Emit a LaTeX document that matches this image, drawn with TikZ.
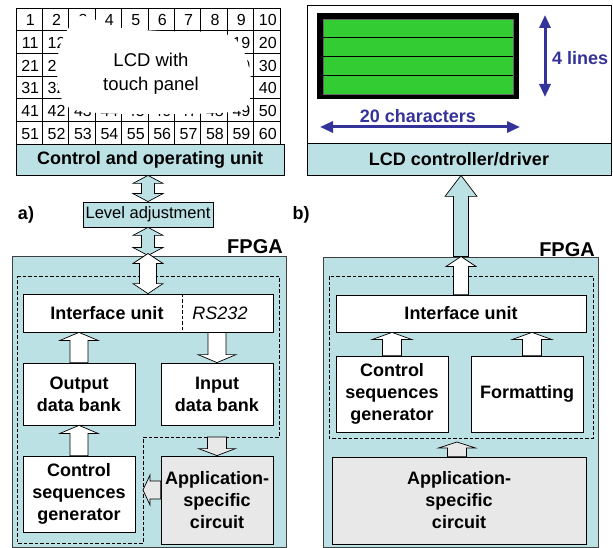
\documentclass[tikz,border=0pt]{standalone}
\usepackage{fontspec}
\setmainfont{Liberation Sans}
\usetikzlibrary{calc,arrows.meta}

\definecolor{panel}{RGB}{188,225,228}
\definecolor{appgray}{RGB}{232,232,232}
\definecolor{dimblue}{RGB}{51,51,153}
\definecolor{lcdgreen}{RGB}{51,204,51}

\newcommand\boldsz{\fontsize{18}{22}\selectfont\bfseries}
\newcommand\fpgasz{\fontsize{20}{24}\selectfont\bfseries}
\newcommand\numsz{\fontsize{16}{19}\selectfont}
\newcommand\plainsz{\fontsize{16.5}{20}\selectfont}
\newcommand\lcdsz{\fontsize{18.5}{26}\selectfont}

% block arrow with one head: fill, tail, tip, half shaft, half head, head length
\newcommand\flowarrow[6]{%
  \coordinate (ba-h) at ($(#3)!#6!(#2)$);
  \filldraw[barrow, fill=#1]
    ($(#2)!#4!90:(#3)$) -- ($(ba-h)!#4!90:(#3)$) -- ($(ba-h)!#5!90:(#3)$) -- (#3)
    -- ($(ba-h)!#5!-90:(#3)$) -- ($(ba-h)!#4!-90:(#3)$) -- ($(#2)!#4!-90:(#3)$) -- cycle;}

% block arrow with a head at each end
\newcommand\twowayarrow[6]{%
  \coordinate (ba-h) at ($(#3)!#6!(#2)$);
  \coordinate (ba-t) at ($(#2)!#6!(#3)$);
  \filldraw[barrow, fill=#1]
    (#2) -- ($(ba-t)!#5!90:(#3)$) -- ($(ba-t)!#4!90:(#3)$) -- ($(ba-h)!#4!90:(#3)$)
    -- ($(ba-h)!#5!90:(#3)$) -- (#3) -- ($(ba-h)!#5!-90:(#3)$) -- ($(ba-h)!#4!-90:(#3)$)
    -- ($(ba-t)!#4!-90:(#3)$) -- ($(ba-t)!#5!-90:(#3)$) -- cycle;}

\tikzset{
  box/.style={draw=black, line width=0.8pt, fill=white, inner sep=0pt, align=center, font=\boldsz},
  cyanbox/.style={box, fill=panel},
  appbox/.style={box, fill=appgray},
  fpgabox/.style={draw=black!75, line width=1pt, fill=panel, inner sep=0pt},
  dashline/.style={line width=1pt, dash pattern=on 3.5pt off 2pt},
  gridline/.style={draw=black, line width=0.7pt},
  barrow/.style={draw=black, line width=0.7pt, line join=miter},
  dimarrow/.style={draw=dimblue, line width=3pt, {Triangle[length=13pt,width=11pt]}-{Triangle[length=13pt,width=11pt]}},
  lbl/.style={inner sep=0pt, font=\boldsz}
}

\begin{document}
\begin{tikzpicture}[x=1pt,y=-1pt]
\useasboundingbox (0,0) rectangle (613,548);

% ---------- a) touch panel grid ----------
% cells whose number lies wholly under the display area are left empty
\foreach \r in {0,...,5}{
  \foreach \c in {0,...,9}{
    \pgfmathtruncatemacro\num{10*\r+\c+1}
    \pgfmathtruncatemacro\hidden{(\r>0)*(\r<4)*(\c>1)*(\c<8) + (\num==39)}
    \ifnum\hidden=0
      \node[font=\numsz, inner sep=0pt] (n\num) at ({16+26.4*(\c+0.5)+1},{8+22.667*(\r+0.5)+1}) {\num};
    \fi
  }
}
\draw[gridline] (16,8) rectangle (280,144);
\foreach \c in {1,...,9} \draw[gridline] ({16+26.4*\c},8) -- ++(0,136);
\foreach \r in {1,...,5} \draw[gridline] (16,{8+22.667*\r}) -- ++(264,0);

% white area of the display
\fill[white] plot[smooth cycle, tension=0.6] coordinates {
  (57,72) (60,46) (68,29) (80,16) (96,20) (115,27) (160,31) (210,32) (232,37)
  (244,52) (251,80) (248,103) (232,112) (150,114) (88,112) (64,103)};
\node[font=\lcdsz, inner sep=0pt] (lcd1) at (151,60) {LCD with};
\node[font=\lcdsz, inner sep=0pt] (lcd2) at (151,86) {touch panel};

\node[cyanbox, minimum width=268pt, minimum height=31pt] (ctrl) at (150,159.5) {Control and operating unit};
\node[cyanbox, font=\plainsz, minimum width=130pt, minimum height=25pt] (lvl) at (148,214.5) {Level adjustment};
\node[lbl] (labA) at (26,215) {a)};

% ---------- a) FPGA ----------
\node[fpgabox, minimum width=274pt, minimum height=291pt] (fpgaA) at (149,401.5) {};
\node[inner sep=0pt, font=\fpgasz, anchor=base east] (fpgaAlbl) at (283,254) {FPGA};

\coordinate (dA1) at (17,276);
\coordinate (dA2) at (279,276);
\coordinate (dA3) at (279,437);
\coordinate (dA4) at (143,437);
\coordinate (dA5) at (143,543);
\coordinate (dA6) at (17,543);
\draw[dashline] (dA1) -- (dA2) -- (dA3) -- (dA4) -- (dA5) -- (dA6) -- cycle;

\node[box, minimum width=250pt, minimum height=38pt] (ifaceA) at (148,313) {};
\draw[dashline] ($(ifaceA.north west)+(160,0)$) -- ($(ifaceA.south west)+(160,0)$);
\node[lbl] (ifaceAtxt) at (107,313) {Interface unit};
\node[inner sep=0pt, font=\fontsize{18}{22}\selectfont\itshape] (rs) at (220,313) {RS232};

\node[box, minimum width=112pt, minimum height=62pt] (outA) at (79,394) {Output\\data bank};
\node[box, minimum width=112pt, minimum height=62pt] (inA) at (217,394) {Input\\data bank};
\node[box, minimum width=112pt, minimum height=76pt] (csgA) at (79,494) {Control\\sequences\\generator};
\node[appbox, minimum width=112pt, minimum height=88pt] (ascA) at (217,500) {Application-\\specific\\circuit};

% connectors of a)
\coordinate (a1) at (lvl.north |- ctrl.south);
\twowayarrow{panel}{a1}{lvl.north}{6.5pt}{15pt}{8pt}
\coordinate (a2) at (lvl.south |- fpgaA.north);
\twowayarrow{panel}{lvl.south}{a2}{6.5pt}{15pt}{8pt}
\coordinate (a3) at ($(ifaceA.north |- fpgaA.north)+(0,-2)$);
\twowayarrow{white}{ifaceA.north}{a3}{8.5pt}{15pt}{10pt}
\coordinate (a4) at (outA.north |- ifaceA.south);
\flowarrow{white}{outA.north}{a4}{9pt}{19pt}{8pt}
\coordinate (a5) at (inA.north |- ifaceA.south);
\flowarrow{white}{a5}{inA.north}{9pt}{19pt}{8pt}
\flowarrow{white}{csgA.north}{outA.south}{9pt}{19pt}{8pt}
\coordinate (a7) at (inA.south |- dA3);
\flowarrow{appgray}{a7}{ascA.north}{9.5pt}{18.5pt}{7pt}
\coordinate (a8s) at ($(ascA.west)+(0,-10)$);
\coordinate (a8t) at (a8s -| dA5);
\flowarrow{appgray}{a8s}{a8t}{9pt}{15pt}{7pt}

% ---------- b) character LCD ----------
\node[box, minimum width=304pt, minimum height=170pt] (lcdbox) at (459,90) {};
\node[cyanbox, minimum width=304pt, minimum height=32pt] (lcdctl) at (459,159) {LCD controller/driver};
\node[fill=black, inner sep=0pt, minimum width=202pt, minimum height=86pt] (lcdframe) at (418,56) {};
\node[fill=lcdgreen, draw=black!60, line width=0.3pt, inner sep=0pt, minimum width=190pt, minimum height=75pt] (lcdglass) at (418,56.5) {};
\foreach \k in {1,2,3}
  \draw[line width=1pt] ($(lcdglass.north west)+(0,{18.75*\k})$) -- ($(lcdglass.north east)+(0,{18.75*\k})$);

\coordinate (dimT) at (545,15);
\coordinate (dimB) at (545,97);
\draw[dimarrow] (dimT) -- (dimB);
\node[lbl, text=dimblue, anchor=west] (lines) at (552,58) {4 lines};
\coordinate (dimL) at (320,127);
\coordinate (dimR) at (520,127);
\draw[dimarrow] (dimL) -- (dimR);
\node[lbl, text=dimblue] (chars) at (418,116) {20 characters};

\node[lbl] (labB) at (301,215) {b)};

% ---------- b) FPGA ----------
\node[fpgabox, minimum width=275pt, minimum height=290pt] (fpgaB) at (460.5,402) {};
\node[inner sep=0pt, font=\fpgasz, anchor=base east] (fpgaBlbl) at (595,256) {FPGA};

\coordinate (dB1) at (329,276);
\coordinate (dB2) at (593,438);
\draw[dashline] (dB1) rectangle (dB2);

\node[box, minimum width=250pt, minimum height=37pt] (ifaceB) at (461,313.5) {Interface unit};
\node[box, minimum width=112pt, minimum height=76pt] (csgB) at (392,394) {Control\\sequences\\generator};
\node[box, minimum width=112pt, minimum height=76pt] (fmtB) at (527,394) {Formatting};
\node[appbox, minimum width=254pt, minimum height=87pt] (ascB) at (459,500.5) {Application-\\specific\\circuit};

% connectors of b)
\coordinate (b1s) at (ifaceB.north |- fpgaB.north);
\coordinate (b1t) at (ifaceB.north |- lcdctl.south);
\flowarrow{panel}{b1s}{b1t}{7.5pt}{16pt}{21pt}
\flowarrow{white}{ifaceB.north}{b1s}{7.5pt}{15pt}{10pt}
\coordinate (b3) at (csgB.north |- ifaceB.south);
\flowarrow{white}{csgB.north}{b3}{9.5pt}{19.5pt}{7pt}
\coordinate (b4s) at ($(fmtB.north)+(5,0)$);
\coordinate (b4t) at (b4s |- ifaceB.south);
\flowarrow{white}{b4s}{b4t}{9.5pt}{19.5pt}{7pt}
\coordinate (b5s) at ($(ascB.north)+(-2,0)$);
\coordinate (b5t) at ($(b5s |- dB2)+(0,4)$);
\flowarrow{appgray}{b5s}{b5t}{9.5pt}{18.5pt}{6pt}
\end{tikzpicture}
\end{document}
